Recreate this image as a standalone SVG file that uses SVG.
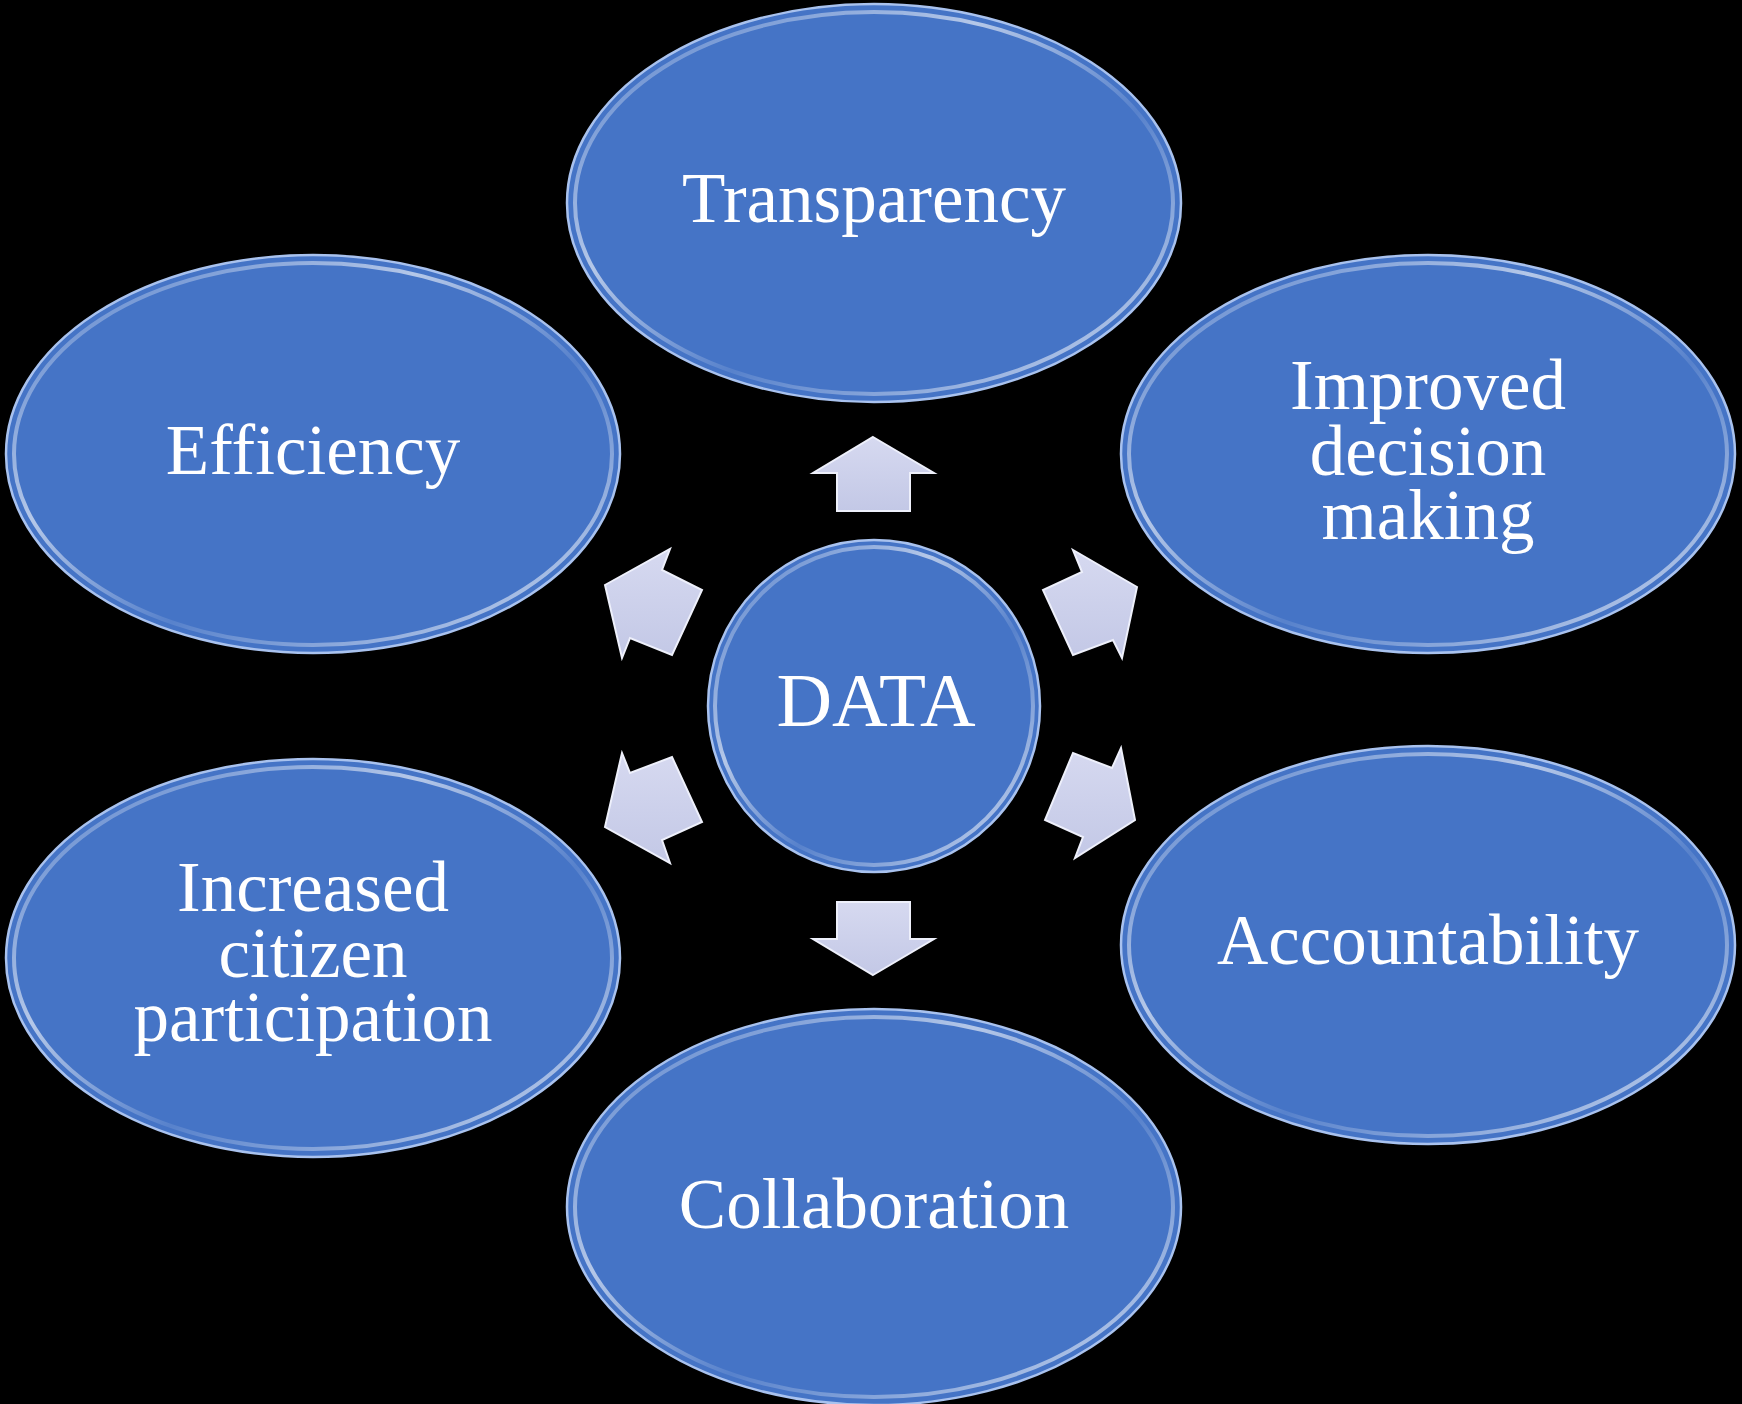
<svg xmlns="http://www.w3.org/2000/svg" width="1742" height="1404" viewBox="0 0 1742 1404">
<style>
.node{fill:#4574c6;stroke:#a9c2ee;stroke-width:2.5}
.rim{fill:none;stroke:url(#rimg);stroke-width:4}
.lbl{font-family:"Liberation Serif","Times New Roman",serif;font-size:71px;fill:#ffffff;text-anchor:middle}
.arr{fill:url(#arrg);stroke:#eef0fb;stroke-width:2;stroke-linejoin:miter}
</style>
<defs>
<linearGradient id="rimg" x1="0" y1="0" x2="1" y2="1">
<stop offset="0" stop-color="#ffffff" stop-opacity="0.05"/>
<stop offset="0.35" stop-color="#ffffff" stop-opacity="0.6"/>
<stop offset="0.6" stop-color="#ffffff" stop-opacity="0.1"/>
<stop offset="0.9" stop-color="#ffffff" stop-opacity="0.6"/>
</linearGradient>
<linearGradient id="arrg" x1="0" y1="0" x2="0" y2="1">
<stop offset="0" stop-color="#d6d9f0"/>
<stop offset="1" stop-color="#c3c8e6"/>
</linearGradient>
</defs>
<rect width="1742" height="1404" fill="#000000"/>

<g id="node-transparency">
<ellipse class="node" cx="874" cy="203" rx="307" ry="199"/>
<ellipse class="rim" cx="874" cy="203" rx="299" ry="191"/>
<text class="lbl" x="874" y="222">Transparency</text>
</g>
<g id="node-efficiency">
<ellipse class="node" cx="313" cy="454" rx="307" ry="199"/>
<ellipse class="rim" cx="313" cy="454" rx="299" ry="191"/>
<text class="lbl" x="313" y="474">Efficiency</text>
</g>
<g id="node-improved">
<ellipse class="node" cx="1428" cy="454" rx="307" ry="199"/>
<ellipse class="rim" cx="1428" cy="454" rx="299" ry="191"/>
<text class="lbl" x="1428" y="409">Improved</text>
<text class="lbl" x="1428" y="475">decision</text>
<text class="lbl" x="1428" y="539">making</text>
</g>
<g id="node-increased">
<ellipse class="node" cx="313" cy="958" rx="307" ry="199"/>
<ellipse class="rim" cx="313" cy="958" rx="299" ry="191"/>
<text class="lbl" x="313" y="911">Increased</text>
<text class="lbl" x="313" y="977">citizen</text>
<text class="lbl" x="313" y="1041">participation</text>
</g>
<g id="node-accountability">
<ellipse class="node" cx="1428" cy="945" rx="307" ry="199"/>
<ellipse class="rim" cx="1428" cy="945" rx="299" ry="191"/>
<text class="lbl" x="1428" y="964">Accountability</text>
</g>
<g id="node-collaboration">
<ellipse class="node" cx="874" cy="1207" rx="307" ry="198"/>
<ellipse class="rim" cx="874" cy="1207" rx="299" ry="190"/>
<text class="lbl" x="874" y="1228">Collaboration</text>
</g>
<g id="node-data">
<circle class="node" cx="874" cy="706" r="166"/>
<circle class="rim" cx="874" cy="706" r="159"/>
<text class="lbl" x="876" y="726" style="font-size:77px">DATA</text>
</g>

<g id="connectors">
<polygon class="arr" points="873,437 934,473 910,473 910,511 837,511 837,473 813,473"/>
<polygon class="arr" points="873,975 934,939 910,939 910,902 837,902 837,939 813,939"/>
<polygon class="arr" points="605,585 670,549 662,570 702,590 672,655 630,638 622,658"/>
<polygon class="arr" points="1137,587 1073,550 1082,572 1043,590 1073,655 1113,640 1122,658"/>
<polygon class="arr" points="605,827 622,753 630,773 672,757 702,822 662,840 670,863"/>
<polygon class="arr" points="1135,820 1121,748 1112,768 1073,753 1045,820 1083,837 1075,858"/>
</g>
</svg>
